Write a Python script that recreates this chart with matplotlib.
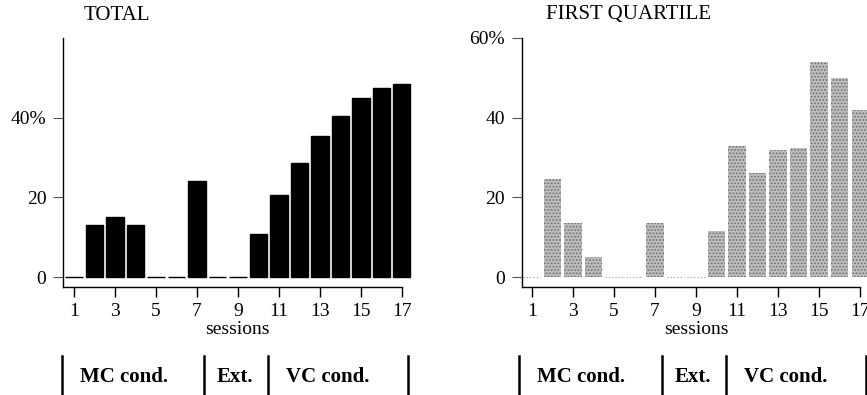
import matplotlib
matplotlib.use("Agg")
import matplotlib.pyplot as plt
import matplotlib.transforms as mtransforms

plt.rcParams['font.family'] = ['Liberation Serif', 'DejaVu Serif']
plt.rcParams['hatch.linewidth'] = 0.8

sessions = list(range(1, 18))
total = [0, 13, 15, 13, 0, 0, 24, 0, 0, 10.7, 20.5, 28.5, 35.5, 40.5, 45, 47.5, 48.5]
first_quartile = [0, 24.5, 13.5, 5, 0, 0, 13.5, 0, 0, 11.5, 33, 26, 32, 32.5, 54, 50, 42]
xticks = [1, 3, 5, 7, 9, 11, 13, 15, 17]
titles = ["TOTAL", "FIRST QUARTILE"]
left_yticks = [0, 20, 40]
left_ylabels = ["0", "20", "40%"]
right_yticks = [0, 20, 40, 60]
right_ylabels = ["0", "20", "40", "60%"]
cond_labels = ["MC cond.", "Ext.", "VC cond."]

W, H = 867, 395
fig = plt.figure(figsize=(W / 100, H / 100), dpi=100)

ax1 = fig.add_axes([63 / W, (H - 287) / H, 349 / W, 249 / H])
ax2 = fig.add_axes([521.5 / W, (H - 287) / H, 349 / W, 249 / H])

ax1.bar(sessions, total, width=0.85, color='black', edgecolor='black', linewidth=1.0)
ax2.bar(sessions, first_quartile, width=0.85, color='#bdbdbd', edgecolor='#6e6e6e',
        linewidth=0, hatch='.....')
# faint zero-level marks for the empty sessions on the right panel
zero_s = [s for s, v in zip(sessions, first_quartile) if v == 0]
ax2.hlines([0] * len(zero_s), [s - 0.425 for s in zero_s], [s + 0.425 for s in zero_s],
           colors='#9a9a9a', linewidth=0.8, linestyles=(0, (1, 2)))

configs = [
    (ax1, 0.46, left_yticks, left_ylabels, titles[0], 117),
    (ax2, 0.5, right_yticks, right_ylabels, titles[1], 629),
]
for ax, x0, yt, yl, title, tx in configs:
    ax.set_xlim(x0, 17.5)
    ax.set_ylim(-2.5, 60)
    for s in ['top', 'right']:
        ax.spines[s].set_visible(False)
    ax.spines['bottom'].set_bounds(x0, 17)
    ax.spines['left'].set_linewidth(1.0)
    ax.spines['bottom'].set_linewidth(1.0)
    ax.set_xticks(xticks)
    ax.set_xticklabels([str(v) for v in xticks], fontsize=14)
    ax.set_yticks(yt)
    ax.set_yticklabels(yl, fontsize=14)
    ax.tick_params(axis='x', direction='out', length=7.5, width=1.0, pad=4)
    ax.tick_params(axis='y', direction='out', length=7, width=0.8, pad=5, color='#555555')
    ax.set_xlabel("sessions", fontsize=14, labelpad=1)
    fig.text(tx / W, (H - 15) / H, title, fontsize=15, ha='center', va='center')

    # condition strip
    trans = mtransforms.blended_transform_factory(ax.transData, fig.transFigure)
    for xb in [0.4, 7.35, 10.45, 17.3]:
        ax.plot([xb, xb], [0, (H - 356) / H], transform=trans, color='black',
                linewidth=1.8, clip_on=False)
    for lab, xc in zip(cond_labels, [3.42, 8.84, 13.38]):
        ax.text(xc, (H - 377) / H, lab, transform=trans, fontsize=15,
                fontweight='bold', ha='center', va='center')

fig.savefig("out.png", dpi=100)
